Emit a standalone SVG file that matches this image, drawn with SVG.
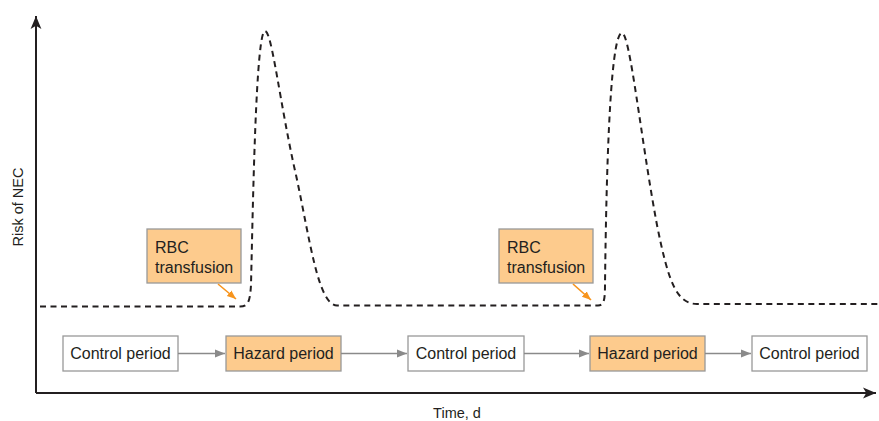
<svg xmlns="http://www.w3.org/2000/svg" width="879" height="421" viewBox="0 0 879 421">
<style>
text{font-family:"Liberation Sans",Arial,sans-serif;fill:#231f20}
.lbl{font-size:16px}
.ax{font-size:14.5px}
.box{stroke:#999;stroke-width:1.3}
.ctl{fill:#fff}
.haz{fill:#fdcb8d}
.flow{stroke:#8a8a8a;stroke-width:1.3;fill:none;marker-end:url(#ga)}
.axis{stroke:#231f20;stroke-width:2;fill:none}
.risk{stroke:#231f20;stroke-width:2;fill:none;stroke-dasharray:6 4.5}
.oarr{stroke:#f7941d;stroke-width:1.6;fill:none;marker-end:url(#oa)}
</style>
<defs>
<marker id="ga" viewBox="0 0 10 10" refX="10" refY="5" markerWidth="10" markerHeight="10" markerUnits="userSpaceOnUse" orient="auto"><path d="M0,1 L10,5 L0,9 Z" fill="#8a8a8a"/></marker>
<marker id="oa" viewBox="0 0 10 10" refX="10" refY="5" markerWidth="9" markerHeight="9" markerUnits="userSpaceOnUse" orient="auto"><path d="M0,1 L10,5 L0,9 Z" fill="#f7941d"/></marker>
<marker id="ka" viewBox="0 0 12 12" refX="12" refY="6" markerWidth="13" markerHeight="13" markerUnits="userSpaceOnUse" orient="auto"><path d="M0,1 L12,6 L0,11 L3,6 Z" fill="#231f20"/></marker>
</defs>
<g id="axes">
<path class="axis" d="M36,393 L36,16" marker-end="url(#ka)"/>
<path class="axis" d="M36,393 L876,393" marker-end="url(#ka)"/>
<text class="ax" transform="translate(23,207) rotate(-90)" text-anchor="middle">Risk of NEC</text>
<text class="ax" x="457" y="418" text-anchor="middle">Time, d</text>
</g>
<g id="risk-curve">
<path class="risk" d="M40,306.5 L240,306.5 C248,306.5 250,302 251,285 C253,200 256,31 265,31 C272,31 280,105 296,175 C310,240 318,305 337,305.5 L598,305.5 C604,305.5 605,300 605,285 C606,200 609,33 622,33 C630,33 641,140 657,225 C668,280 676,304 697,304 L879,304"/>
</g>
<g id="rbc1">
<rect class="box haz" x="147" y="229" width="94" height="54"/>
<text class="lbl" x="155" y="253">RBC</text>
<text class="lbl" x="155" y="273">transfusion</text>
</g>
<g id="rbc2">
<rect class="box haz" x="499" y="229" width="94" height="54"/>
<text class="lbl" x="507" y="253">RBC</text>
<text class="lbl" x="507" y="273">transfusion</text>
</g>
<g id="control1">
<rect class="box ctl" x="63" y="336" width="115" height="35"/>
<text class="lbl" x="120.5" y="359" text-anchor="middle">Control period</text>
</g>
<g id="hazard1">
<rect class="box haz" x="226" y="336" width="115" height="35"/>
<text class="lbl" x="283.5" y="359" text-anchor="middle">Hazard period</text>
</g>
<g id="control2">
<rect class="box ctl" x="408" y="336" width="116" height="35"/>
<text class="lbl" x="466" y="359" text-anchor="middle">Control period</text>
</g>
<g id="hazard2">
<rect class="box haz" x="590" y="336" width="115" height="35"/>
<text class="lbl" x="647.5" y="359" text-anchor="middle">Hazard period</text>
</g>
<g id="control3">
<rect class="box ctl" x="752" y="336" width="115" height="35"/>
<text class="lbl" x="809.5" y="359" text-anchor="middle">Control period</text>
</g>
<g id="connectors">
<path class="flow" d="M178,353.5 L225,353.5"/>
<path class="flow" d="M341,353.5 L407,353.5"/>
<path class="flow" d="M524,353.5 L589,353.5"/>
<path class="flow" d="M705,353.5 L751,353.5"/>
<path class="oarr" d="M218,284 L236,299"/>
<path class="oarr" d="M573,284 L591,300"/>
</g>
</svg>
